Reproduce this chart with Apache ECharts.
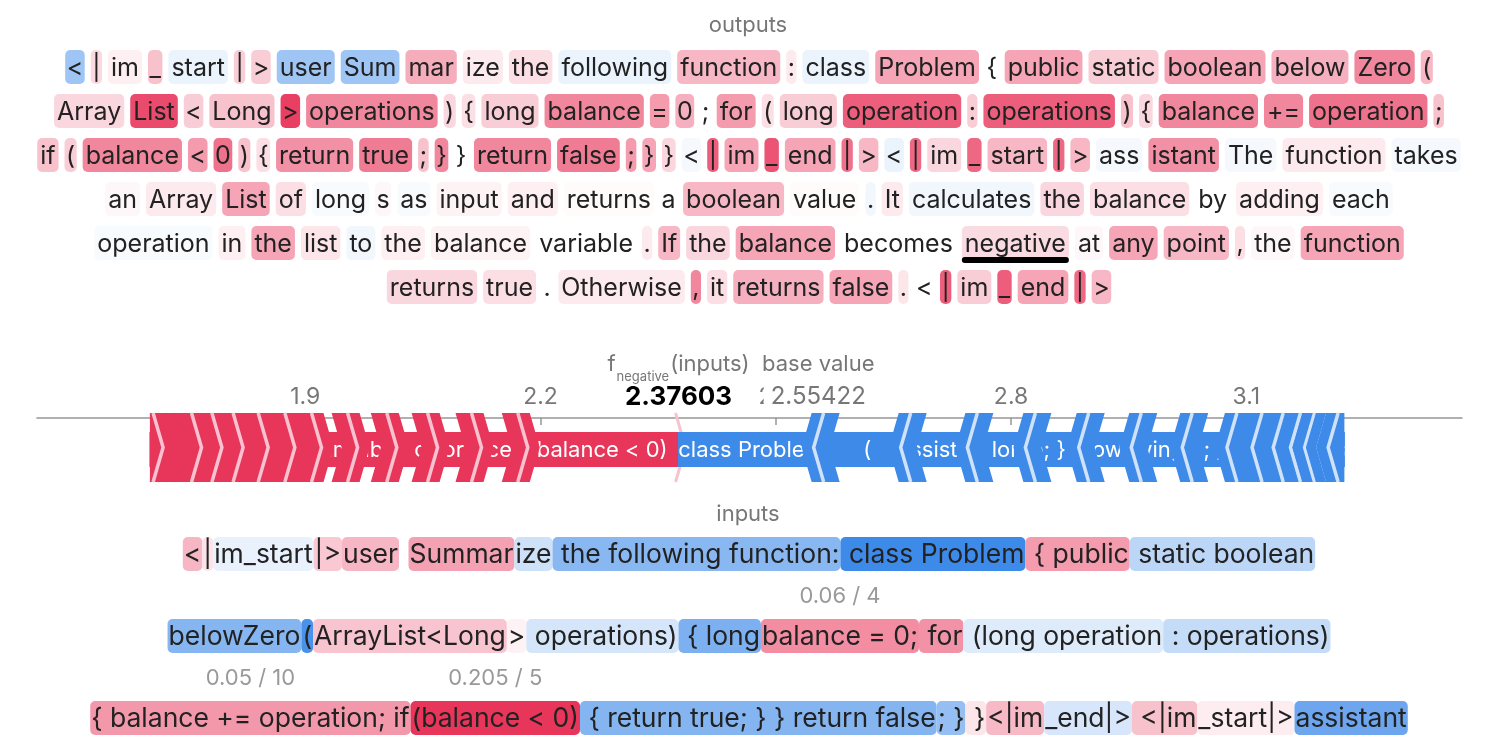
<!DOCTYPE html>
<html>
<head>
<meta charset="utf-8">
<title>text plot</title>
<script src="https://cdn.jsdelivr.net/npm/echarts@6.0.0/dist/echarts.min.js"></script>
<style>
html, body { margin: 0; padding: 0; background: #fff; }
#chart { width: 1490px; height: 754px; }
</style>
</head>
<body>
<div id="chart"></div>
<script>
// output tokens, one array per printed row, with their values
var outTokens1 = ['<','|','im','_','start','|','>','user','Sum','mar','ize','the','following','function',':','class','Problem','{','public','static','boolean','below','Zero','('];
var outValues1 = [-0.05,0.015,0.005,0.027,-0.007,0.021,0.021,-0.05,-0.05,0.04,0.007,0.012,-0.007,0.033,0.007,-0.007,0.044,0,0.044,0.021,0.044,0.038,0.063,0.033];
var outTokens2 = ['Array','List','<','Long','>','operations',')','{','long','balance','=','0',';','for','(','long','operation',':','operations',')','{','balance','+=','operation',';'];
var outValues2 = [0.016,0.105,0.021,0.027,0.113,0.063,0.016,0.012,0.021,0.063,0.05,0.038,0,0.05,0.012,0.021,0.091,0.021,0.091,0.027,0.016,0.063,0.063,0.077,0.027];
var outTokens3 = ['if','(','balance','<','0',')','{','return','true',';','}','}','return','false',';','}','}','<','|','im','_','end','|','>','<','|','im','_','start','|','>','ass','istant','The','function','takes'];
var outValues3 = [0.027,0.021,0.063,0.05,0.077,0.027,0.012,0.057,0.07,0.027,0.063,0,0.063,0.07,0.05,0.044,0.016,-0.003,0.091,0.044,0.098,0.044,0.077,0.033,-0.007,0.084,0.016,0.084,0.033,0.084,0.033,-0.003,0.057,-0.003,0.007,-0.003];
var outTokens4 = ['an','Array','List','of','long','s','as','input','and','returns','a','boolean','value','.','It','calculates','the','balance','by','adding','each'];
var outValues4 = [0.002,0.007,0.044,0.012,-0.002,0.002,-0.002,0.004,0.005,0.001,0,0.033,0.001,-0.004,0.007,-0.004,0.016,0.012,0,0.005,-0.002];
var outTokens5 = ['operation','in','the','list','to','the','balance','variable','.','If','the','balance','becomes','negative','at','any','point',',','the','function'];
var outValues5 = [-0.002,0.005,0.044,0.009,-0.004,0.005,0.004,0,0.007,0.033,0.016,0.044,0,0.014,0.002,0.044,0.033,0.012,0.002,0.044];
var outTokens6 = ['returns','true','.','Otherwise',',','it','returns','false','.','<','|','im','_','end','|','>'];
var outValues6 = [0.016,0.012,0,0.007,0.063,0.012,0.038,0.044,0.009,0,0.091,0.021,0.091,0.044,0.084,0.033];
var selectedOutput = [4, 13]; // "negative"

// input token groups, one array per printed row, with their shap values
var inTokens1 = ['<','|','im_start','|>','user',' ','Summar','ize',' the following function:',' class Problem',' { public',' static boolean'];
var inValues1 = [0.034,0.010,-0.008,0.024,0.034,0,0.046,-0.022,-0.065,-0.185,0.050,-0.032];
var inTokens2 = ['belowZero','(','ArrayList<Long','>',' operations)',' { long','balance = 0;',' for',' (long operation',' : operations)'];
var inValues2 = [-0.067,-0.111,0.026,0.004,-0.018,-0.074,0.059,0.056,-0.013,-0.027];
var inTokens3 = ['{ balance += operation; if','(balance < 0)',' { return true; } } return false','; }',' }','<|im','_end|>',' <|im','_start|>','assistant'];
var inValues3 = [0.052,0.205,-0.068,-0.057,0.009,0.032,-0.017,0.027,0.006,-0.085];
var inNotes = [[1, 6, '0.06 / 4'], [2, 0, '0.05 / 10'], [2, 1, '0.205 / 5']];

var fxValue = 2.37603;
var baseValue = 2.55422;
var outputName = 'negative';
var axisTicks = [1.9, 2.2, 2.5, 2.8, 3.1];

var FONT = 'Inter, "Noto Sans", sans-serif';
var RED = [232, 54, 91], BLUE = [62, 138, 233];
var RED_HEX = 'rgb(232,54,91)', BLUE_HEX = 'rgb(62,138,233)';
var LIGHT_RED = 'rgb(248,194,208)', LIGHT_BLUE = 'rgb(208,226,249)';

var measureCtx = document.createElement('canvas').getContext('2d');
function textWidth(t, size) {
	measureCtx.font = size + 'px ' + FONT;
	return measureCtx.measureText(t).width;
}

function tokenColor(v) {
	if (!v) return 'rgba(255,255,255,0)';
	var a = Math.pow(Math.min(1, Math.abs(v) / 0.12), 0.8);
	var c = v > 0 ? RED : BLUE;
	return 'rgb(' + c.map(function (k) { return Math.round(255 - a * (255 - k)); }).join(',') + ')';
}

function layoutRows(rows, vals, o) {
	var els = [], boxes = [];
	rows.forEach(function (tokens, r) {
		var pads = tokens.map(function (t) { return t.length === 1 ? o.padS : o.padX; });
		var widths = tokens.map(function (t, i) { return textWidth(t, o.size) + 2 * pads[i]; });
		var total = widths.reduce(function (a, b) { return a + b; }, 0) + o.gap * (tokens.length - 1);
		var x = o.cx - total / 2, y = o.y + r * o.dy;
		boxes.push([]);
		tokens.forEach(function (t, i) {
			var w = widths[i];
			els.push({ type: 'rect', silent: true, shape: { x: x, y: y - o.h / 2, width: w, height: o.h, r: o.r }, style: { fill: tokenColor(vals[r][i]) } });
			els.push({ type: 'text', silent: true, x: x + pads[i], y: y + 1, style: { text: t, font: o.size + 'px ' + FONT, fill: '#222', align: 'left', verticalAlign: 'middle' } });
			boxes[r].push({ x: x, w: w, y: y });
			x += w + o.gap;
		});
	});
	return { els: els, boxes: boxes };
}

var outRows = [outTokens1, outTokens2, outTokens3, outTokens4, outTokens5, outTokens6];
var outVals = [outValues1, outValues2, outValues3, outValues4, outValues5, outValues6];
var inRows = [inTokens1, inTokens2, inTokens3];
var inVals = [inValues1, inValues2, inValues3];

var outLayout = layoutRows(outRows, outVals, { size: 25, padX: 3, padS: 1.5, gap: 6, h: 34, r: 5, cx: 749, y: 67, dy: 44 });
var inLayout = layoutRows(inRows, inVals, { size: 26.5, padX: 1, padS: 1, gap: 0, h: 34, r: 5, cx: 749, y: 554, dy: 82 });

var graphics = [];
graphics.push({ type: 'text', silent: true, x: 748, y: 25, style: { text: 'outputs', font: '22px ' + FONT, fill: '#777', align: 'center', verticalAlign: 'middle' } });
graphics.push({ type: 'text', silent: true, x: 748, y: 514, style: { text: 'inputs', font: '22px ' + FONT, fill: '#777', align: 'center', verticalAlign: 'middle' } });
graphics = graphics.concat(outLayout.els, inLayout.els);
var sel = outLayout.boxes[selectedOutput[0]][selectedOutput[1]];
graphics.push({ type: 'rect', silent: true, shape: { x: sel.x, y: sel.y + 14, width: sel.w, height: 6, r: 3 }, style: { fill: '#000' } });
inNotes.forEach(function (n) {
	var b = inLayout.boxes[n[0]][n[1]];
	graphics.push({ type: 'text', silent: true, x: b.x + b.w / 2, y: b.y - 40, style: { text: n[2], font: '22px ' + FONT, fill: '#999', align: 'center', verticalAlign: 'middle' } });
});

// force plot segments, biggest effects next to f(x)
var allTokens = inTokens1.concat(inTokens2, inTokens3);
var allValues = inValues1.concat(inValues2, inValues3);
var order = allValues.map(function (v, i) { return i; });
var posIdx = order.filter(function (i) { return allValues[i] > 0; }).sort(function (a, b) { return allValues[b] - allValues[a]; });
var negIdx = order.filter(function (i) { return allValues[i] < 0; }).sort(function (a, b) { return allValues[a] - allValues[b]; });
var redSegs = [], blueSegs = [], redDivs = [], blueDivs = [];
var p = fxValue;
posIdx.forEach(function (i, k) {
	if (k > 0) redDivs.push([p, 1]);
	redSegs.push([p - allValues[i], p, i, 1]);
	p -= allValues[i];
});
var redStart = p;
p = fxValue;
negIdx.forEach(function (i, k) {
	if (k > 0) blueDivs.push([p, -1]);
	blueSegs.push([p, p - allValues[i], i, -1]);
	p -= allValues[i];
});
var blueEnd = p;

function renderSeg(params, api) {
	var x0 = api.coord([api.value(0), 0])[0];
	var x1 = api.coord([api.value(1), 0])[0];
	var top = params.coordSys.y;
	var color = api.value(3) > 0 ? RED_HEX : BLUE_HEX;
	return {
		type: 'group',
		children: [
			{ type: 'rect', shape: { x: x0 - 0.5, y: top + 14, width: x1 - x0 + 1, height: 35 }, style: { fill: color } },
			{
				type: 'group',
				clipPath: { type: 'rect', shape: { x: x0, y: top, width: x1 - x0, height: 64 } },
				children: [{ type: 'text', x: (x0 + x1) / 2, y: top + 32, style: { text: allTokens[api.value(2)].trim(), fill: '#fff', font: '22px ' + FONT, align: 'center', verticalAlign: 'middle' } }]
			}
		]
	};
}

function renderDiv(params, api) {
	var b = api.coord([api.value(0), 0])[0];
	var dir = api.value(1);
	var top = params.coordSys.y;
	var T = top - 5, B = top + 64, M = (T + B) / 2, d = 10 * dir;
	var l = dir > 0 ? 16 : 12, r = dir > 0 ? 12 : 16;
	var fill = dir > 0 ? RED_HEX : BLUE_HEX;
	var light = dir > 0 ? LIGHT_RED : LIGHT_BLUE;
	var lo = api.coord([dir > 0 ? redStart : fxValue, 0])[0];
	var hi = api.coord([dir > 0 ? fxValue : blueEnd, 0])[0];
	return {
		type: 'group',
		clipPath: { type: 'rect', shape: { x: lo, y: T - 2, width: hi - lo, height: B - T + 4 } },
		children: [
			{ type: 'polygon', shape: { points: [[b - l, T], [b - l + d, M], [b - l, B], [b + r, B], [b + r + d, M], [b + r, T]] }, style: { fill: fill } },
			{ type: 'polyline', shape: { points: [[b, T], [b + d, M], [b, B]] }, style: { stroke: light, lineWidth: 3.5, fill: null } }
		]
	};
}

function renderFx(params, api) {
	var x = api.coord([api.value(0), 0])[0];
	var top = params.coordSys.y;
	var T = top - 5, B = top + 64, M = (T + B) / 2;
	return { type: 'polyline', shape: { points: [[x - 3, T], [x + 7, M], [x - 3, B]] }, style: { stroke: LIGHT_RED, lineWidth: 3, fill: null } };
}

function renderLabels(params, api) {
	var x = api.coord([api.value(0), 0])[0];
	var top = params.coordSys.y;
	if (api.value(1) === 0) {
		var wf = textWidth('f', 22), wn = textWidth(outputName, 13), wi = textWidth('(inputs)', 22);
		var s = x - (wf + wn + wi + 2) / 2;
		return {
			type: 'group',
			children: [
				{ type: 'text', x: s, y: top - 54, style: { text: 'f', font: '22px ' + FONT, fill: '#777', align: 'left', verticalAlign: 'middle' } },
				{ type: 'text', x: s + wf + 1, y: top - 41, style: { text: outputName, font: '13px ' + FONT, fill: '#777', align: 'left', verticalAlign: 'middle' } },
				{ type: 'text', x: s + wf + wn + 2, y: top - 54, style: { text: '(inputs)', font: '22px ' + FONT, fill: '#777', align: 'left', verticalAlign: 'middle' } },
				{ type: 'text', x: x, y: top - 21, style: { text: fxValue.toFixed(5), font: 'bold 26px ' + FONT, fill: '#000', align: 'center', verticalAlign: 'middle', backgroundColor: '#fff', padding: [0, 3] } }
			]
		};
	}
	return {
		type: 'group',
		children: [
			{ type: 'text', x: x, y: top - 54, style: { text: 'base value', font: '22px ' + FONT, fill: '#777', align: 'center', verticalAlign: 'middle' } },
			{ type: 'text', x: x, y: top - 21, style: { text: baseValue.toFixed(5), font: '24px ' + FONT, fill: '#777', align: 'center', verticalAlign: 'middle', backgroundColor: '#fff', padding: [0, 7] } }
		]
	};
}

var chart = echarts.init(document.getElementById('chart'));
chart.setOption({
	animation: false,
	grid: { left: 37, right: 28, top: 418, height: 64 },
	xAxis: {
		type: 'value',
		position: 'top',
		min: 1.558,
		max: 3.375,
		axisLine: { onZero: false, lineStyle: { color: '#969696', width: 1.5 } },
		axisTick: { inside: true, length: 7, customValues: axisTicks, lineStyle: { color: '#969696', width: 1.5 } },
		axisLabel: { customValues: axisTicks, color: '#777', fontSize: 23, fontFamily: FONT, margin: 9 },
		splitLine: { show: false }
	},
	yAxis: { type: 'value', min: 0, max: 1, show: false },
	series: [
		{ type: 'custom', z: 2, clip: false, silent: true, encode: { x: [0, 1], y: 3 }, data: redSegs, renderItem: renderSeg },
		{ type: 'custom', z: 3, clip: false, silent: true, encode: { x: 0, y: 1 }, data: redDivs, renderItem: renderDiv },
		{ type: 'custom', z: 4, clip: false, silent: true, encode: { x: 0 }, data: [[fxValue, 0]], renderItem: renderFx },
		{ type: 'custom', z: 5, clip: false, silent: true, encode: { x: [0, 1], y: 3 }, data: blueSegs, renderItem: renderSeg },
		{ type: 'custom', z: 6, clip: false, silent: true, encode: { x: 0, y: 1 }, data: blueDivs, renderItem: renderDiv },
		{ type: 'custom', z: 7, clip: false, silent: true, encode: { x: 0 }, data: [[fxValue, 0], [baseValue, 1]], renderItem: renderLabels }
	],
	graphic: { elements: graphics }
});
</script>
</body>
</html>
